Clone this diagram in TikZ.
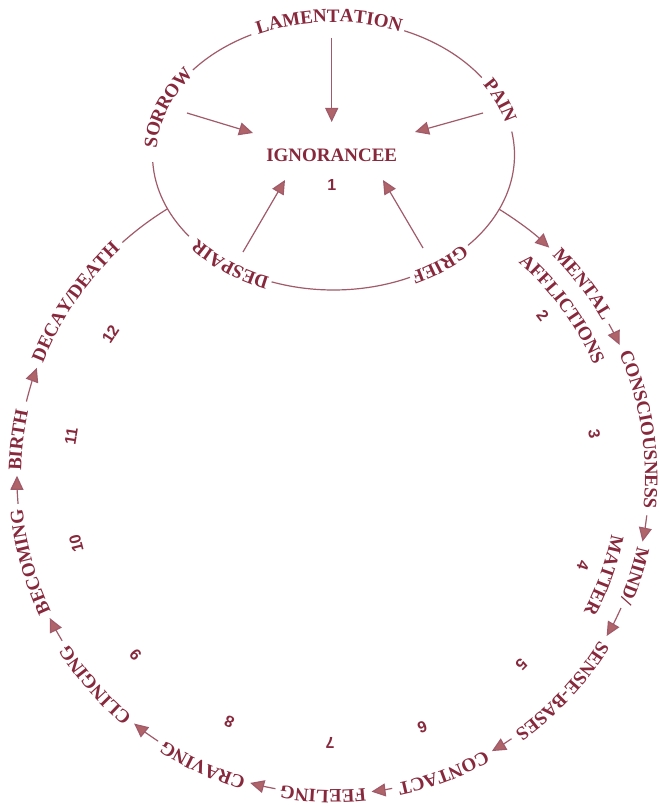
\documentclass[tikz,border=0pt]{standalone}
\usepackage{fontspec}
\setmainfont{Liberation Serif}
\newfontfamily\numfamily{Liberation Sans}
\usetikzlibrary{arrows.meta,calc,decorations.text}
\definecolor{wordred}{RGB}{135,40,60}
\definecolor{linerose}{RGB}{160,90,105}
\definecolor{tiprose}{RGB}{175,100,105}
\newcommand\wordfont{\fontsize{19pt}{22pt}\selectfont\bfseries\color{wordred}}
\newcommand\ringword[3][316]{%
  \path[decorate,decoration={text along path,text align=center,raise=-4pt,text={|\wordfont|#3}}]
    ($(C)+(#2+25:#1pt)$) arc[start angle=#2+25,end angle=#2-25,radius=#1pt];}
\newcommand\eggword[4][-4pt]{%
  \path[decorate,decoration={text along path,text align=center,raise=#1,text={|\wordfont|#4}}]
    ($(E)+({181*cos(#2+#3)},{135*sin(#2+#3)})$) arc[start angle=#2+#3,end angle=#2-#3,x radius=181pt,y radius=135pt];}

\begin{document}
\begin{tikzpicture}[x=1pt,y=1pt,
  ring/.style={draw=linerose,line width=1.2pt,-{Triangle[length=14pt,width=13pt,fill=tiprose]}},
  plain/.style={draw=linerose,line width=1.2pt},
  num/.style={font=\numfamily\bfseries\fontsize{16pt}{18pt}\selectfont,text=wordred,inner sep=0pt},
  core/.style={font=\wordfont,inner sep=0pt}
]
  \path[use as bounding box] (0,0) rectangle (660,807);
  \coordinate (C) at (333,329);
  \coordinate (E) at (333.5,652);

  \foreach \a/\b in {141/117,67/35,10/-42,-65/-110,217/183}
    \draw[plain] ($(E)+({181*cos(\a)},{135*sin(\a)})$) arc[start angle=\a,end angle=\b,x radius=181pt,y radius=135pt];
  \eggword[-2pt]{91.5}{30}{LAMENTATION}
  \eggword{23}{16}{PAIN}
  \eggword{160}{25}{SORROW}
  \eggword{234}{22}{DESPAIR}
  \eggword{-53.5}{18}{GRIEF}

  \node[core] (ign) at (331.7,652) {IGNORANCEE};
  \node[num] (n1) at (331.7,622) {1};
  \foreach \nm/\sx/\sy/\ex/\ey in {lam/331.7/769/331.7/685, sor/187/694/253/674,
      pain/483/694/415/675, desp/243/555/285/627, grief/423/559/383/627} {
    \coordinate (\nm-from) at (\sx,\sy);
    \coordinate (\nm-to) at (\ex,\ey);
    \draw[ring] (\nm-from) -- (\nm-to);
  }

  \ringword{37.8}{MENTAL}
  \ringword[288]{36.3}{AFFLICTIONS}
  \ringword{9}{CONSCIOUSNESS}
  \ringword{-18}{MIND/}
  \ringword[288]{-19.7}{MATTER}
  \ringword{-42.9}{SENSE-BASES}
  \ringword{-69.5}{CONTACT}
  \ringword{-91.8}{FEELING}
  \ringword{-114.4}{CRAVING}
  \ringword{-139}{CLINGING}
  \ringword{-164.5}{BECOMING}
  \ringword{173.1}{BIRTH}
  \ringword{145.7}{DECAY/DEATH}

  \foreach \nm/\a/\b in {mental/58.3/46.8, consc/29.2/24.9, mind/-6.8/-11.6, sense/-24.3/-30,
      contact/-55.6/-59.8, feel/-79.2/-83, crave/-100.5/-105.2, cling/-123.6/-129,
      become/-149/-153.7, birth/-175.3/-180.4, decay/166/159.6} {
    \coordinate (\nm-tail) at ($(C)+(\a:316pt)$);
    \draw[ring] (\nm-tail) arc[start angle=\a,end angle=\b,radius=316pt];
  }
  \coordinate (death-tail) at ($(C)+(131.8:316pt)$);
  \draw[plain] (death-tail) arc[start angle=131.8,end angle=121.6,radius=316pt];

  \foreach \a/\n in {37.7/2,9.5/3,-19.3/4,-44.7/5,-70.3/6,-90.6/7,-113/8,-138.2/9,-165.7/10,170.9/11,147.1/12}
    \node[num,rotate=\a-90] (n\n) at ($(C)+(\a:265pt)$) {\n};
\end{tikzpicture}
\end{document}
